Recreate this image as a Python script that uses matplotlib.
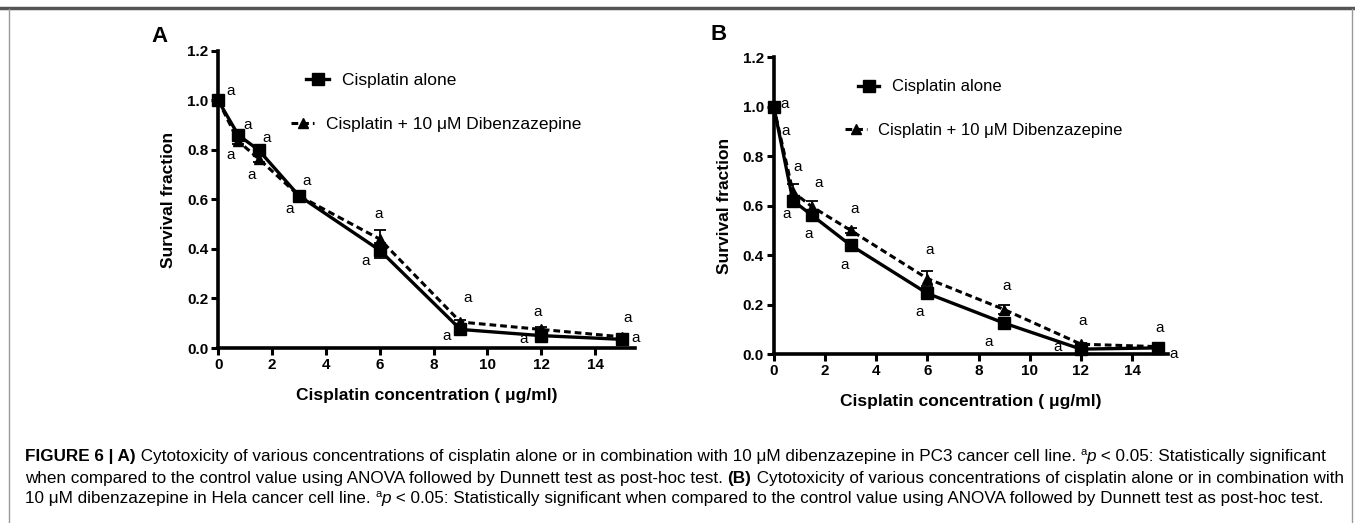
import matplotlib.pyplot as plt
from matplotlib.lines import Line2D

plt.rcParams['font.family'] = ['Liberation Sans', 'DejaVu Sans']

conc = [0, 0.75, 1.5, 3, 6, 9, 12, 15]

# panel A (PC3)
a_alone = [1.0, 0.86, 0.80, 0.615, 0.395, 0.075, 0.05, 0.035]
a_alone_err = [0, 0.01, 0.01, 0.01, 0.03, 0.01, 0.008, 0.005]
a_combo = [1.0, 0.835, 0.765, 0.615, 0.44, 0.105, 0.075, 0.045]
a_combo_err = [0, 0.01, 0.012, 0.01, 0.035, 0.01, 0.008, 0.005]
a_marks_x = [0.45, 1.1, 0.45, 1.8, 1.26, 3.27, 2.64, 5.95, 5.47, 9.26, 8.5, 11.86, 11.34, 15.2, 15.5]
a_marks_y = [1.04, 0.90, 0.78, 0.85, 0.70, 0.675, 0.56, 0.54, 0.35, 0.20, 0.05, 0.145, 0.035, 0.12, 0.04]

# panel B (Hela)
b_alone = [1.0, 0.62, 0.56, 0.44, 0.245, 0.125, 0.02, 0.025]
b_alone_err = [0, 0.012, 0.015, 0.01, 0.012, 0.01, 0.005, 0.005]
b_combo = [1.0, 0.655, 0.595, 0.50, 0.305, 0.18, 0.04, 0.03]
b_combo_err = [0, 0.03, 0.025, 0.01, 0.03, 0.02, 0.005, 0.005]
b_marks_x = [0.43, 0.47, 0.94, 1.76, 0.5, 1.37, 3.16, 2.77, 6.09, 5.7, 9.1, 8.4, 12.07, 11.1, 15.08, 15.6]
b_marks_y = [1.01, 0.90, 0.755, 0.69, 0.565, 0.485, 0.585, 0.36, 0.42, 0.17, 0.275, 0.05, 0.135, 0.03, 0.105, 0.0]

yticks = [0.0, 0.2, 0.4, 0.6, 0.8, 1.0, 1.2]
xticks = [0, 2, 4, 6, 8, 10, 12, 14]
xlab = 'Cisplatin concentration ( \u03bcg/ml)'
lab1 = 'Cisplatin alone'
lab2 = 'Cisplatin + 10 \u03bcM Dibenzazepine'

# caption pieces: (text, weight, style, superscript)
mu = '\u03bc'
cap_lines = [
    [('FIGURE 6 | A)', 'bold', 'normal', False),
     (' Cytotoxicity of various concentrations of cisplatin alone or in combination with 10 ' + mu +
      'M dibenzazepine in PC3 cancer cell line. ', 'normal', 'normal', False),
     ('a', 'normal', 'normal', True), ('p', 'normal', 'italic', False),
     (' < 0.05: Statistically significant', 'normal', 'normal', False)],
    [('when compared to the control value using ANOVA followed by Dunnett test as post-hoc test. ',
      'normal', 'normal', False),
     ('(B)', 'bold', 'normal', False),
     (' Cytotoxicity of various concentrations of cisplatin alone or in combination with', 'normal', 'normal', False)],
    [('10 ' + mu + 'M dibenzazepine in Hela cancer cell line. ', 'normal', 'normal', False),
     ('a', 'normal', 'normal', True), ('p', 'normal', 'italic', False),
     (' < 0.05: Statistically significant when compared to the control value using ANOVA followed by '
      'Dunnett test as post-hoc test.', 'normal', 'normal', False)],
]

DASH = (0, (2.2, 1.3))


def panel(ax, alone, alone_err, combo, combo_err, mx, my, xmax):
    ax.errorbar(conc, combo, yerr=combo_err, color='black', lw=2.2, ls=DASH,
                marker='^', ms=7, capsize=4, elinewidth=1.3, capthick=1.3, clip_on=False, zorder=3)
    ax.errorbar(conc, alone, yerr=alone_err, color='black', lw=2.4, ls='-',
                marker='s', ms=8, capsize=4, elinewidth=1.3, capthick=1.3, clip_on=False, zorder=4)
    for x, y in zip(mx, my):
        ax.text(x, y, 'a', fontsize=11, ha='center', va='center', clip_on=False)
    ax.set_xlim(0, xmax)
    ax.set_ylim(0, 1.2)
    ax.set_xticks(xticks)
    ax.set_yticks(yticks)
    ax.set_yticklabels(['%.1f' % v for v in yticks])
    for s in ['top', 'right']:
        ax.spines[s].set_visible(False)
    for s in ['left', 'bottom']:
        ax.spines[s].set_linewidth(2.6)
    ax.tick_params(width=2.2, length=5, labelsize=11, pad=2)
    for t in ax.get_xticklabels() + ax.get_yticklabels():
        t.set_fontweight('bold')
    ax.set_ylabel('Survival fraction', fontsize=12.5, fontweight='bold', labelpad=8)
    ax.set_xlabel(xlab, fontsize=12.5, fontweight='bold', labelpad=12)


W, H = 1355, 523
fig = plt.figure(figsize=(W / 100, H / 100), dpi=100)
axA = fig.add_axes([0.161, 0.3346, 0.308, 0.568])
axB = fig.add_axes([0.571, 0.323, 0.291, 0.568])
panel(axA, a_alone, a_alone_err, a_combo, a_combo_err, a_marks_x, a_marks_y, 15.5)
panel(axB, b_alone, b_alone_err, b_combo, b_combo_err, b_marks_x, b_marks_y, 15.4)

h1 = Line2D([], [], color='black', lw=2.4, marker='s', ms=8)
h2 = Line2D([], [], color='black', lw=2.2, ls=DASH, marker='^', ms=7)
for ax, p1, p2, fs in [(axA, (0.174, 0.98), (0.138, 0.83), 12.5),
                       (axB, (0.175, 0.975), (0.143, 0.83), 12)]:
    l1 = ax.legend([h1], [lab1], loc='upper left', bbox_to_anchor=p1, frameon=False,
                   fontsize=fs, handlelength=1.3, handletextpad=0.75)
    ax.add_artist(l1)
    ax.legend([h2], [lab2], loc='upper left', bbox_to_anchor=p2, frameon=False,
              fontsize=fs, handlelength=1.3, handletextpad=0.7)

fig.text(160 / W, 1 - 36 / H, 'A', fontsize=16, fontweight='bold', ha='center', va='center')
fig.text(719 / W, 1 - 34 / H, 'B', fontsize=16, fontweight='bold', ha='center', va='center')

# figure frame
fig.add_artist(Line2D([0, 1], [1 - 8 / H, 1 - 8 / H], color='#555555', lw=2.5))
fig.add_artist(Line2D([9 / W, 9 / W], [0, 1 - 9 / H], color='#999999', lw=1))
fig.add_artist(Line2D([1352 / W, 1352 / W], [0, 1 - 9 / H], color='#999999', lw=1))

# caption, laid out piece by piece
renderer = fig.canvas.get_renderer()
fam = ['Liberation Sans Narrow', 'Liberation Sans', 'DejaVu Sans']
fs_cap = 12.3
for line, yy in zip(cap_lines, [457, 478, 499]):
    x = 25 / W
    for txt, wt, st, sup in line:
        y = 1 - yy / H
        size = fs_cap
        if sup:
            y += 5 / H
            size = fs_cap * 0.65
        t = fig.text(x, y, txt, fontsize=size, family=fam, fontweight=wt, fontstyle=st,
                     va='center', ha='left')
        bb = t.get_window_extent(renderer)
        x = bb.x1 / W

fig.savefig('out.png', dpi=100)
